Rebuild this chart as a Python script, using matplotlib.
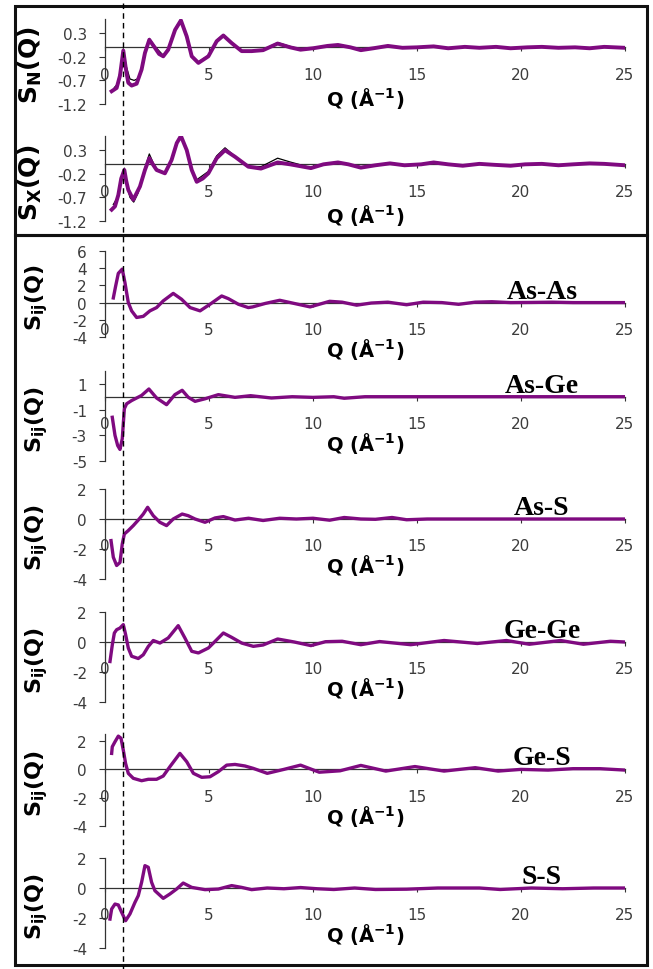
import matplotlib
matplotlib.use("Agg")
import matplotlib.pyplot as plt
from matplotlib.lines import Line2D
from matplotlib.patches import Rectangle

# ---- data (Q in 1/A) ----
q_sn_model = [0.32, 0.56, 0.72, 0.88, 1.0, 1.12, 1.28, 1.52, 1.76, 1.92, 2.13, 2.4, 2.6, 2.8,
              3.04, 3.37, 3.65, 3.93, 4.17, 4.49, 4.97, 5.37, 5.69, 6.09, 6.57, 7.05, 7.6,
              8.3, 8.9, 9.4, 10.0, 10.7, 11.2, 11.8, 12.3, 12.9, 13.6, 14.3, 15.0, 15.8,
              16.5, 17.3, 18.0, 18.8, 19.5, 20.3, 21.0, 21.8, 22.6, 23.3, 24.0, 25.0]
sn_model = [-0.93, -0.86, -0.6, -0.07, -0.45, -0.75, -0.81, -0.77, -0.47, -0.12, 0.16, -0.01,
            -0.14, -0.19, -0.05, 0.37, 0.57, 0.23, -0.19, -0.33, -0.19, 0.13, 0.25, 0.09,
            -0.08, -0.08, -0.06, 0.08, 0.0, -0.05, -0.02, 0.03, 0.05, 0.0, -0.06, -0.02,
            0.03, -0.01, 0.0, 0.02, -0.02, 0.01, -0.01, 0.01, -0.02, 0.0, 0.01, -0.01, 0.0,
            -0.02, 0.01, -0.01]
q_sn_exp = [0.45, 0.6, 0.75, 0.88, 1.02, 1.2, 1.4, 1.6, 1.8, 1.95, 2.13, 2.4, 2.8, 3.04, 3.37,
            3.65, 3.93, 4.17, 4.49, 4.97, 5.37, 5.69, 6.09, 6.57, 7.05, 7.6, 8.3, 8.9, 9.4,
            10.0, 10.7, 11.2, 11.8, 12.3, 13.0, 13.6, 14.4, 15.1, 15.8, 16.6, 17.3, 18.1,
            18.8, 19.6, 20.3, 21.1, 21.8, 22.5, 23.3, 24.1, 25.0]
sn_exp = [-0.85, -0.78, -0.45, -0.03, -0.4, -0.67, -0.7, -0.66, -0.4, -0.08, 0.19, 0.02,
          -0.17, -0.03, 0.39, 0.6, 0.25, -0.17, -0.31, -0.17, 0.15, 0.27, 0.1, -0.07, -0.07,
          -0.05, 0.1, 0.02, -0.04, -0.01, 0.04, 0.06, 0.01, -0.05, -0.01, 0.03, -0.02, 0.01,
          0.02, -0.03, 0.01, 0.0, 0.02, -0.02, 0.01, 0.0, -0.01, 0.01, -0.03, 0.02, 0.0]

q_sx_model = [0.32, 0.48, 0.64, 0.78, 0.93, 1.02, 1.12, 1.36, 1.68, 1.92, 2.13, 2.3, 2.48,
              2.88, 3.2, 3.45, 3.65, 3.93, 4.17, 4.41, 4.7, 4.97, 5.37, 5.77, 6.25, 6.89,
              7.5, 8.3, 8.9, 9.9, 10.5, 11.2, 11.7, 12.3, 13.0, 13.7, 14.4, 15.2, 15.8, 16.5,
              17.2, 18.0, 18.7, 19.5, 20.2, 21.0, 21.8, 22.5, 23.3, 24.0, 25.0]
sx_model = [-0.96, -0.89, -0.65, -0.3, -0.12, -0.35, -0.54, -0.75, -0.47, -0.12, 0.13, 0.0,
            -0.12, -0.19, 0.09, 0.45, 0.6, 0.3, -0.12, -0.37, -0.3, -0.19, 0.13, 0.3, 0.16,
            -0.05, -0.09, 0.04, 0.0, -0.08, 0.0, 0.04, 0.0, -0.07, -0.02, 0.02, -0.02, 0.0,
            0.04, 0.0, -0.03, 0.01, -0.01, -0.03, 0.0, 0.01, -0.02, 0.0, 0.02, 0.01, -0.02]
q_sx_exp = [0.4, 0.6, 0.78, 0.93, 1.05, 1.2, 1.38, 1.6, 1.9, 2.13, 2.35, 2.5, 2.88, 3.2, 3.45,
            3.65, 3.93, 4.17, 4.4, 4.97, 5.37, 5.77, 6.25, 6.89, 7.5, 8.3, 8.9, 9.9, 10.5,
            11.2, 11.7, 12.3, 13.0, 13.7, 14.4, 15.2, 15.8, 16.5, 17.2, 18.0, 18.7, 19.5,
            20.2, 21.0, 21.8, 22.5, 23.3, 24.0, 25.0]
sx_exp = [-0.85, -0.7, -0.3, -0.08, -0.45, -0.7, -0.8, -0.6, -0.1, 0.22, 0.0, -0.1, -0.18,
          0.1, 0.47, 0.62, 0.3, -0.1, -0.33, -0.15, 0.18, 0.35, 0.17, -0.04, -0.05, 0.13,
          0.05, -0.07, 0.01, 0.05, 0.01, -0.05, -0.01, 0.03, -0.01, 0.01, 0.05, 0.01, -0.02,
          0.02, 0.0, -0.02, 0.01, 0.02, -0.01, 0.01, 0.03, 0.02, -0.01]

q_asas = [0.4, 0.51, 0.64, 0.83, 0.96, 1.12, 1.28, 1.52, 1.84, 2.16, 2.48, 2.8, 3.28, 3.68,
          4.09, 4.57, 5.05, 5.61, 5.93, 6.41, 6.89, 7.1, 7.7, 8.4, 9.1, 9.86, 10.8, 11.4,
          12.1, 12.8, 13.6, 14.5, 15.3, 16.2, 17.0, 17.8, 18.6, 19.5, 20.5, 21.5, 22.5,
          23.5, 25.0]
s_asas = [0.54, 1.9, 3.4, 3.9, 2.3, 0.0, -0.96, -1.73, -1.6, -0.96, -0.58, 0.2, 1.07, 0.39,
          -0.58, -0.96, -0.19, 0.77, 0.46, -0.19, -0.58, -0.5, -0.1, 0.27, -0.1, -0.5, 0.15,
          0.05, -0.3, -0.05, 0.05, -0.25, 0.05, 0.0, -0.2, 0.05, 0.1, 0.0, 0.02, 0.05, 0.0,
          0.0, 0.0]

q_asge = [0.35, 0.48, 0.61, 0.72, 0.83, 0.93, 1.04, 1.28, 1.52, 1.76, 2.11, 2.48, 2.96, 3.36,
          3.71, 4.0, 4.33, 4.81, 5.45, 6.25, 7.0, 8.0, 9.0, 10.0, 11.0, 11.5, 12.5, 14.0,
          16.0, 18.0, 20.0, 22.0, 25.0]
s_asge = [-1.6, -3.0, -3.8, -4.1, -3.27, -0.93, -0.55, -0.3, -0.1, 0.1, 0.6, -0.1, -0.62,
          0.16, 0.5, -0.04, -0.36, -0.16, 0.16, -0.05, 0.08, -0.1, 0.0, -0.05, 0.0, -0.12,
          0.0, 0.0, 0.0, 0.0, 0.0, 0.0, 0.0]

q_ass = [0.29, 0.4, 0.56, 0.72, 0.83, 0.93, 1.12, 1.36, 1.6, 1.84, 2.05, 2.32, 2.64, 2.96,
         3.28, 3.71, 4.0, 4.33, 4.81, 5.29, 5.69, 6.25, 6.9, 7.6, 8.4, 9.2, 10.0, 10.8, 11.5,
         12.3, 13.0, 13.8, 14.5, 15.5, 17.0, 19.0, 21.0, 23.0, 25.0]
s_ass = [-1.44, -2.55, -3.1, -2.9, -1.67, -1.0, -0.77, -0.44, -0.07, 0.33, 0.78, 0.22, -0.22,
         -0.44, 0.0, 0.33, 0.22, 0.0, -0.22, 0.07, 0.16, -0.07, 0.05, -0.1, 0.05, 0.0, 0.05,
         -0.08, 0.1, 0.0, -0.02, 0.1, -0.05, 0.0, 0.0, 0.0, 0.0, 0.0, 0.0]

q_gege = [0.24, 0.35, 0.45, 0.56, 0.72, 0.88, 0.99, 1.12, 1.28, 1.6, 1.84, 2.08, 2.32, 2.64,
          3.04, 3.52, 3.84, 4.17, 4.49, 4.97, 5.29, 5.69, 6.09, 6.57, 7.13, 7.6, 8.3, 9.1,
          9.9, 10.6, 11.4, 12.3, 13.2, 14.7, 16.3, 17.9, 19.3, 20.4, 21.9, 23.0, 24.3, 25.0]
s_gege = [-1.3, -0.2, 0.6, 0.82, 0.93, 1.16, 0.5, -0.4, -0.95, -1.1, -0.85, -0.3, 0.1, -0.07,
          0.27, 1.09, 0.27, -0.62, -0.73, -0.4, 0.04, 0.6, 0.31, -0.07, -0.29, -0.2, 0.2,
          0.0, -0.24, 0.02, 0.05, -0.18, 0.03, -0.18, 0.1, -0.1, 0.1, -0.15, 0.1, -0.15,
          0.05, 0.0]

q_ges = [0.32, 0.35, 0.48, 0.64, 0.77, 0.88, 0.99, 1.12, 1.36, 1.76, 2.08, 2.48, 2.8, 3.12,
         3.6, 3.93, 4.25, 4.65, 5.05, 5.45, 5.85, 6.25, 6.73, 7.13, 7.8, 8.6, 9.4, 10.3,
         11.3, 12.3, 13.5, 14.9, 16.3, 17.8, 18.9, 20.0, 21.3, 22.5, 23.8, 25.0]
s_ges = [1.13, 1.6, 1.95, 2.35, 2.2, 1.36, 0.42, -0.28, -0.63, -0.8, -0.7, -0.7, -0.47, 0.19,
         1.13, 0.54, -0.28, -0.56, -0.52, -0.16, 0.3, 0.35, 0.24, 0.07, -0.28, 0.0, 0.3,
         -0.2, -0.1, 0.28, -0.12, 0.2, -0.12, 0.12, -0.12, 0.0, -0.05, 0.05, 0.05, -0.05]

q_ss = [0.24, 0.32, 0.48, 0.64, 0.8, 0.99, 1.2, 1.44, 1.6, 1.76, 1.92, 2.08, 2.24, 2.4, 2.8,
        3.12, 3.44, 3.76, 4.17, 4.81, 5.45, 6.09, 6.57, 7.05, 7.8, 8.6, 9.4, 10.2, 11.0, 12.0,
        13.0, 14.5, 16.0, 18.0, 19.0, 20.5, 22.0, 23.5, 25.0]
s_ss = [-2.07, -1.4, -1.07, -1.13, -1.62, -2.18, -1.73, -0.96, -0.51, 0.38, 1.49, 1.38, 0.38,
        -0.18, -0.69, -0.4, -0.07, 0.33, 0.04, -0.11, -0.07, 0.16, 0.04, -0.11, 0.0, -0.05,
        0.03, -0.05, -0.1, 0.0, -0.1, -0.08, 0.0, 0.0, -0.1, 0.0, -0.05, 0.0, 0.0]

pair_labels = ["As-As", "As-Ge", "As-S", "Ge-Ge", "Ge-S", "S-S"]
x_ticks = [0, 5, 10, 15, 20, 25]

W, H = 653, 970
PURPLE = "#7f0a80"
TICKC = "#3c3c3c"


def fx(px):
    return px / W


def fy(py):
    return 1 - py / H


fig = plt.figure(figsize=(W / 100, H / 100), dpi=100)

# (y_top_px, y_bottom_px, ylim, yticks, ylabel, curves, pair label)
panels = [
    (20, 105, (-1.2, 0.6), [-1.2, -0.7, -0.2, 0.3],
     r"$\mathbf{S_N(Q)}$", [(q_sn_exp, sn_exp, "k", 0.9), (q_sn_model, sn_model, PURPLE, 2.8)], None),
    (137, 222, (-1.2, 0.6), [-1.2, -0.7, -0.2, 0.3],
     r"$\mathbf{S_X(Q)}$", [(q_sx_exp, sx_exp, "k", 0.9), (q_sx_model, sx_model, PURPLE, 2.8)], None),
    (252, 338, (-4, 6), [-4, -2, 0, 2, 4, 6],
     r"$\mathbf{S_{ij}(Q)}$", [(q_asas, s_asas, PURPLE, 2.4)], pair_labels[0]),
    (372, 462, (-5, 2), [-5, -3, -1, 1],
     r"$\mathbf{S_{ij}(Q)}$", [(q_asge, s_asge, PURPLE, 2.4)], pair_labels[1]),
    (490, 580, (-4, 2), [-4, -2, 0, 2],
     r"$\mathbf{S_{ij}(Q)}$", [(q_ass, s_ass, PURPLE, 2.4)], pair_labels[2]),
    (613, 703, (-4, 2), [-4, -2, 0, 2],
     r"$\mathbf{S_{ij}(Q)}$", [(q_gege, s_gege, PURPLE, 2.4)], pair_labels[3]),
    (735, 827, (-4, 2.5), [-4, -2, 0, 2],
     r"$\mathbf{S_{ij}(Q)}$", [(q_ges, s_ges, PURPLE, 2.4)], pair_labels[4]),
    (859, 949, (-4, 2), [-4, -2, 0, 2],
     r"$\mathbf{S_{ij}(Q)}$", [(q_ss, s_ss, PURPLE, 2.4)], pair_labels[5]),
]

for i, (top, bot, ylim, yticks, ylab, curves, pair) in enumerate(panels):
    ax = fig.add_axes([fx(105), fy(bot), fx(625) - fx(105), (bot - top) / H])
    ax.set_facecolor("none")
    for q, s, c, lw in curves:
        ax.plot(q, s, color=c, lw=lw, solid_joinstyle="round", zorder=3)
    ax.set_xlim(0, 25)
    ax.set_ylim(*ylim)
    ax.spines["top"].set_visible(False)
    ax.spines["right"].set_visible(False)
    ax.spines["bottom"].set_position(("data", 0))
    ax.spines["bottom"].set_color("#333333")
    ax.spines["bottom"].set_linewidth(0.9)
    ax.spines["left"].set_color("#333333")
    ax.spines["left"].set_linewidth(0.9)
    ax.set_xticks(x_ticks)
    ax.set_yticks(yticks)
    ax.set_yticklabels([("%g" % v) for v in yticks])
    ax.tick_params(axis="x", direction="out", length=3, width=0.8, pad=11,
                   labelsize=11, labelcolor=TICKC, color="#333333")
    ax.tick_params(axis="y", direction="out", length=4, width=0.8, pad=9,
                   labelsize=11, labelcolor=TICKC, color="#333333")
    ax.annotate("Q (Å$^{\\mathbf{-1}}$)", xy=(0.5, 0), xycoords=("axes fraction", "data"),
                xytext=(0, -46 if i >= 2 else -50), textcoords="offset pixels",
                ha="center", va="center", fontsize=14, fontweight="bold")
    lab_x = 30 if i < 2 else 37
    fig.text(fx(lab_x), fy((top + bot) / 2 + 3), ylab, rotation=90,
             ha="center", va="center", fontsize=18 if i < 2 else 16)
    if pair:
        ax.annotate(pair, xy=(21.0, 0), xycoords="data", xytext=(0, 5),
                    textcoords="offset pixels", ha="center", va="baseline",
                    fontsize=20, fontweight="bold", family="Liberation Serif")

# dashed marker through all panels
fig.add_artist(Line2D([fx(123), fx(123)], [fy(4), fy(970)], color="k", lw=1.0,
                      ls=(0, (4, 3)), transform=fig.transFigure))

# frames around the total and partial groups
for y0, y1 in [(7, 236), (236, 966)]:
    fig.add_artist(Rectangle((fx(15), fy(y1)), fx(647) - fx(15), (y1 - y0) / H,
                             transform=fig.transFigure, fill=False, ec="#111111", lw=2.2))

fig.savefig("out.png", dpi=100)
